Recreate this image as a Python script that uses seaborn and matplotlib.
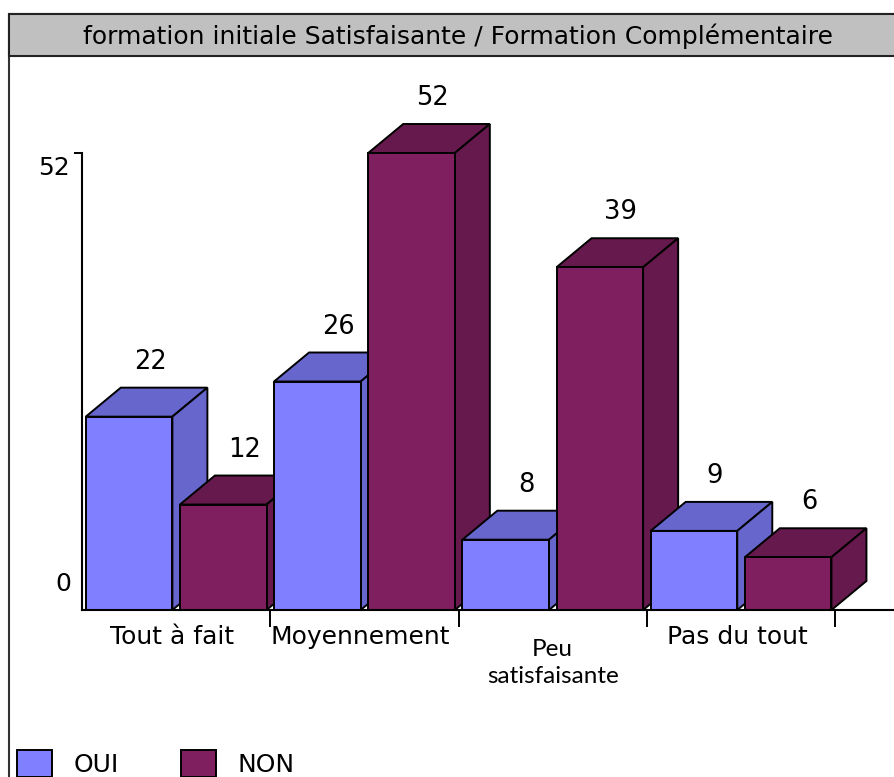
import pandas as pd
import seaborn as sns
import matplotlib.pyplot as plt
from matplotlib.patches import Polygon, Rectangle
from matplotlib.colors import to_rgb

# Data
categories = ["Tout à fait", "Moyennement", "Peu\nsatisfaisante", "Pas du tout"]
series = ["OUI", "NON"]
oui_values = [22, 26, 8, 9]
non_values = [12, 52, 39, 6]
y_ticks = [0, 52]
title = "formation initiale Satisfaisante / Formation Complémentaire"

df = pd.DataFrame({
    "reponse": categories * 2,
    "formation": ["OUI"] * len(categories) + ["NON"] * len(categories),
    "effectif": oui_values + non_values,
})

sns.set_theme(style="white")
plt.rcParams["font.family"] = ["DejaVu Sans"]
plt.rcParams["text.color"] = "black"

W, H = 895, 777
fig = plt.figure(figsize=(W / 100, H / 100), dpi=100)

# outer frame and grey title band
fig.add_artist(Rectangle((9 / W, -0.05), 1.05, (H - 14) / H + 0.05, transform=fig.transFigure,
                         facecolor="white", edgecolor="#333333", linewidth=1.5, zorder=0))
fig.add_artist(Rectangle((9 / W, (H - 56) / H), 1.05, 42 / H, transform=fig.transFigure,
                         facecolor="#C0C0C0", edgecolor="#222222", linewidth=1.5, zorder=0.5))
fig.text(458 / W, 1 - 36 / H, title, ha="center", va="center", fontsize=18, color="black")

ax = fig.add_axes([82 / W, (H - 610) / H, (W - 82) / W, (610 - 60) / H])
ax.patch.set_alpha(0)

sns.barplot(data=df, x="reponse", y="effectif", hue="formation", hue_order=series,
            order=categories, palette=["#7F7FFF", "#801F5F"], saturation=1,
            width=1.0, gap=0.08, edgecolor="black", linewidth=1.4, ax=ax)

px_per_cat = 188.3
ax.set_xlim(-0.5, -0.5 + (W - 82) / px_per_cat)
ax.set_ylim(0, (610 - 60) * y_ticks[-1] / 457)

# depth of the fake 3D effect, in pixels -> data units
x0_px, y0_px = ax.transData.transform((0, 0))
x1_px, y1_px = ax.transData.transform((1, 1))
dx = 35 / (x1_px - x0_px)
dy = 29 / (y1_px - y0_px)

bars = sorted([p for p in ax.patches if p.get_height() > 0], key=lambda p: p.get_x())
for rank, p in enumerate(bars):
    z = 2 + rank * 0.1
    x, w, h = p.get_x(), p.get_width(), p.get_height()
    dark = tuple(c * 0.8 for c in to_rgb(p.get_facecolor()))
    p.set_zorder(z)
    top = Polygon([(x, h), (x + dx, h + dy), (x + w + dx, h + dy), (x + w, h)],
                  closed=True, facecolor=dark, edgecolor="black", linewidth=1.4,
                  zorder=z - 0.05, clip_on=False)
    side = Polygon([(x + w, 0), (x + w, h), (x + w + dx, h + dy), (x + w + dx, dy)],
                   closed=True, facecolor=dark, edgecolor="black", linewidth=1.4,
                   zorder=z - 0.05, clip_on=False)
    ax.add_patch(top)
    ax.add_patch(side)
    ax.annotate(f"{int(h)}", xy=(x + w / 2, h), xytext=(21, 55), textcoords="offset pixels",
                ha="center", va="center", fontsize=18.5, color="black")

# axes styling
sns.despine(ax=ax, top=True, right=True)
ax.spines["left"].set_bounds(0, y_ticks[-1])
for side_name in ["left", "bottom"]:
    ax.spines[side_name].set_color("black")
    ax.spines[side_name].set_linewidth(1.5)
    ax.spines[side_name].set_zorder(10)

ax.set_yticks([y_ticks[-1]])
ax.set_yticklabels([])
ax.tick_params(axis="y", direction="out", length=5.8, width=1.4, color="black", left=True)
ax.set_xticks(range(len(categories)))
ax.set_xticklabels([])
ax.tick_params(axis="x", which="major", length=0)
ax.set_xticks([i + 0.5 for i in range(len(categories))], minor=True)
ax.tick_params(axis="x", which="minor", direction="out", length=12, width=1.4,
               color="black", bottom=True)
ax.set_xlabel("")
ax.set_ylabel("")

ax.annotate(str(y_ticks[-1]), xy=(-0.5, y_ticks[-1]), xytext=(-28, -15),
            textcoords="offset pixels", ha="center", va="center", fontsize=18, color="black")
ax.annotate(str(y_ticks[0]), xy=(-0.5, y_ticks[0]), xytext=(-19, 26),
            textcoords="offset pixels", ha="center", va="center", fontsize=18, color="black")

for i, cat in enumerate(categories):
    if "\n" in cat:
        ax.annotate(cat, xy=(i, 0), xytext=(0, -53), textcoords="offset pixels",
                    ha="center", va="center", fontsize=17.5, family="Lato",
                    linespacing=1.35, color="black")
    else:
        ax.annotate(cat, xy=(i, 0), xytext=(-4, -27), textcoords="offset pixels",
                    ha="center", va="center", fontsize=18, color="black")

# legend at the bottom, taken from seaborn's own legend
leg = ax.get_legend()
handles = leg.legend_handles
labels = [t.get_text() for t in leg.get_texts()]
leg.remove()
for hnd in handles:
    hnd.set_edgecolor("black")
    hnd.set_linewidth(1.4)
fig.legend(handles, labels, loc="upper left", bbox_to_anchor=(17 / W, (H - 750) / H),
           ncol=2, frameon=False, fontsize=18, labelcolor="black", handlelength=1.4,
           handleheight=1.3, handletextpad=0.85, columnspacing=2.5, borderpad=0,
           borderaxespad=0)

fig.savefig("out.png", dpi=100)
